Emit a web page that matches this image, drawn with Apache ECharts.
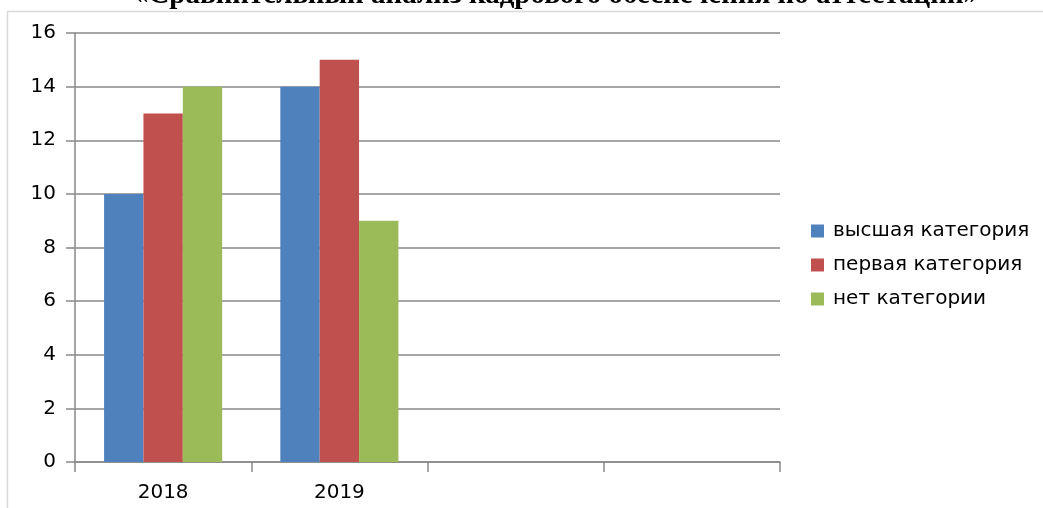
<!DOCTYPE html>
<html><head><meta charset="utf-8">
<script src="https://cdn.jsdelivr.net/npm/echarts@6/dist/echarts.min.js"></script>
<style>html,body{margin:0;padding:0;background:#fff}#c{width:1043px;height:508px}</style>
</head><body><div id="c"></div>
<script>
const categories = ['2018', '2019', '', ''];
const seriesNames = ['высшая категория', 'первая категория', 'нет категории'];
const highest = [10, 14, null, null];
const first = [13, 15, null, null];
const none = [14, 9, null, null];
const colors = ['#4F81BD', '#C0504D', '#9BBB59'];
const titleText = '«Сравнительный анализ кадрового обеспечения по аттестации»';

const chart = echarts.init(document.getElementById('c'));
const font = '"DejaVu Sans", sans-serif';
chart.setOption({
  animation: false,
  graphic: [
    {type: 'rect', shape: {x: 7.5, y: 11.5, width: 1100, height: 600}, style: {fill: 'none', stroke: '#d9d9d9', lineWidth: 1.5}, z: -1},
    {type: 'text', x: 556, y: -4, style: {text: titleText, font: 'bold 29px "Liberation Serif", "Times New Roman", serif', fill: '#000', textAlign: 'center', textVerticalAlign: 'middle'}}
  ],
  legend: {
    orient: 'vertical', left: 806, top: 216, itemWidth: 13, itemHeight: 13, itemGap: 14,
    icon: 'rect',
    textStyle: {fontSize: 20, fontFamily: font, color: '#000', padding: [0, 0, 0, 4]},
    data: seriesNames
  },
  grid: {left: 75, right: 263, top: 33, bottom: 46, containLabel: false},
  xAxis: {
    type: 'category', data: categories,
    axisLine: {lineStyle: {color: '#898989', width: 1.5}},
    axisTick: {show: true, length: 10, lineStyle: {color: '#898989', width: 1.5}},
    axisLabel: {fontSize: 20, fontFamily: font, color: '#000', margin: 21}
  },
  yAxis: {
    type: 'value', min: 0, max: 16, interval: 2,
    axisLine: {show: true, lineStyle: {color: '#898989', width: 1.5}},
    axisTick: {show: true, length: 9, lineStyle: {color: '#898989', width: 1.5}},
    axisLabel: {fontSize: 20, fontFamily: font, color: '#000', margin: 19},
    splitLine: {lineStyle: {color: '#898989', width: 1.5}}
  },
  series: [
    {name: seriesNames[0], type: 'bar', data: highest, itemStyle: {color: colors[0]}, barGap: '0%', barCategoryGap: '33%'},
    {name: seriesNames[1], type: 'bar', data: first, itemStyle: {color: colors[1]}, barGap: '0%', barCategoryGap: '33%'},
    {name: seriesNames[2], type: 'bar', data: none, itemStyle: {color: colors[2]}, barGap: '0%', barCategoryGap: '33%'}
  ]
});
</script></body></html>
